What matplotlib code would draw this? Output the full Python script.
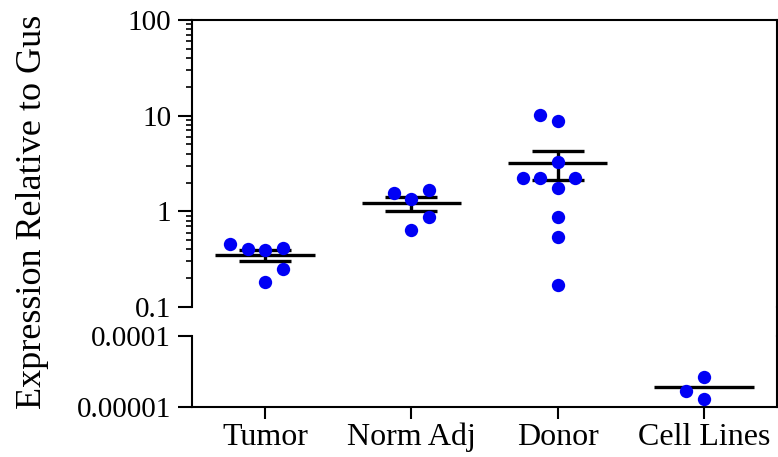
import numpy as np
import matplotlib
matplotlib.use("Agg")
import matplotlib.pyplot as plt
from matplotlib.lines import Line2D
from matplotlib.ticker import FixedLocator, FixedFormatter, NullLocator, LogLocator, NullFormatter

# ---------------- data ----------------
categories = ["Tumor", "Norm Adj", "Donor", "Cell Lines"]
tumor = [0.394, 0.40, 0.41, 0.455, 0.181, 0.252]
norm_adj = [1.35, 1.56, 1.66, 0.636, 0.867]
donor = [8.77, 10.05, 3.24, 1.74, 2.24, 2.24, 2.24, 0.873, 0.542, 0.171]
cell_lines = [2.67e-5, 1.28e-5, 1.70e-5]
show_sem = [True, True, True, False]

upper_ticks = [0.1, 1, 10, 100]
upper_labels = ["0.1", "1", "10", "100"]
lower_ticks = [1e-5, 1e-4]
lower_labels = ["0.00001", "0.0001"]
y_label = "Expression Relative to Gus"

groups = [tumor, norm_adj, donor, cell_lines]

# ---------------- style ----------------
plt.rcParams['font.family'] = ['Liberation Serif', 'DejaVu Serif']
W, H = 778, 457
fig = plt.figure(figsize=(W / 100, H / 100), dpi=100)

left_px, right_px = 192, 777
top_px, brk_top_px, brk_bot_px, bot_px = 20, 307, 336, 407
ax_top = fig.add_axes([left_px / W, 1 - brk_top_px / H, (right_px - left_px) / W, (brk_top_px - top_px) / H])
ax_bot = fig.add_axes([left_px / W, 1 - bot_px / H, (right_px - left_px) / W, (bot_px - brk_bot_px) / H])

spine_lw = 1.5
for ax in (ax_top, ax_bot):
    ax.set_xlim(-0.5, 3.5)
    ax.set_yscale('log')
    for s in ax.spines.values():
        s.set_linewidth(spine_lw)
    ax.patch.set_alpha(0)

ax_top.set_ylim(0.1, 100)
ax_bot.set_ylim(1e-5, 1e-4)
ax_top.spines['bottom'].set_visible(False)
ax_bot.spines['top'].set_visible(False)

ax_top.yaxis.set_major_locator(FixedLocator(upper_ticks))
ax_top.yaxis.set_major_formatter(FixedFormatter(upper_labels))
ax_top.yaxis.set_minor_locator(LogLocator(base=10, subs=np.arange(2, 10)))
ax_top.yaxis.set_minor_formatter(NullFormatter())
ax_top.set_xticks([])

ax_bot.yaxis.set_major_locator(FixedLocator(lower_ticks))
ax_bot.yaxis.set_major_formatter(FixedFormatter(lower_labels))
ax_bot.yaxis.set_minor_locator(NullLocator())
ax_bot.set_xticks(range(len(categories)))
ax_bot.set_xticklabels(categories)

for ax in (ax_top, ax_bot):
    ax.tick_params(axis='y', which='major', direction='out', length=10, width=spine_lw,
                   labelsize=21, pad=5, right=False)
    ax.tick_params(axis='y', which='minor', direction='out', length=4, width=1.2, right=False)
ax_bot.tick_params(axis='x', which='major', direction='out', length=8.5, width=spine_lw,
                   labelsize=23, pad=3)

# continue the right frame line through the break
x_r = right_px / W
fig.add_artist(Line2D([x_r, x_r], [1 - brk_top_px / H, 1 - brk_bot_px / H],
                      transform=fig.transFigure, color='black', lw=spine_lw))

fig.text(33 / W, 1 - ((top_px + bot_px) / 2 - 2) / H, y_label, rotation=90,
         ha='center', va='center', fontsize=26)

# ---------------- swarm layout ----------------
step_units = 0.12
collide_px = 16.5


def swarm_offsets(ax, xc, values):
    px_per_unit = ax.transData.transform((1, 1))[0] - ax.transData.transform((0, 1))[0]
    step_px = step_units * px_per_unit
    ys = [ax.transData.transform((xc, v))[1] for v in values]
    placed = []
    slots = []
    for y in ys:
        k = 0
        chosen = None
        while chosen is None:
            cands = [0] if k == 0 else [-k, k]
            free = []
            for c in cands:
                x = c * step_px
                ok = all(np.hypot(x - px, y - py) >= collide_px for px, py in placed)
                if ok:
                    crowd = sum(1.0 / max(np.hypot(x - px, y - py) ** 2, 1e-9) for px, py in placed)
                    free.append((c, crowd))
            if len(free) == 1:
                chosen = free[0][0]
            elif len(free) == 2:
                (c1, w1), (c2, w2) = free
                chosen = c2 if w2 < 0.98 * w1 else c1
            k += 1
        placed.append((chosen * step_px, y))
        slots.append(chosen)
    return [xc + s * step_units for s in slots]


mean_half = 0.34
cap_half = 0.178
bar_lw = 2.4
for i, vals in enumerate(groups):
    ax = ax_bot if i == 3 else ax_top
    vals = np.asarray(vals, dtype=float)
    m = vals.mean()
    sem = vals.std(ddof=1) / np.sqrt(len(vals))
    ax.hlines(m, i - mean_half, i + mean_half, color='black', lw=bar_lw, zorder=3)
    if show_sem[i]:
        ax.hlines([m - sem, m + sem], i - cap_half, i + cap_half, color='black', lw=bar_lw, zorder=3)
        ax.vlines(i, m - sem, m + sem, color='black', lw=bar_lw, zorder=3)
    xs = swarm_offsets(ax, i, vals)
    ax.plot(xs, vals, 'o', color='#0000f5', markersize=9.6, markeredgewidth=0, zorder=4,
            clip_on=False)

fig.savefig('out.png', dpi=100)
